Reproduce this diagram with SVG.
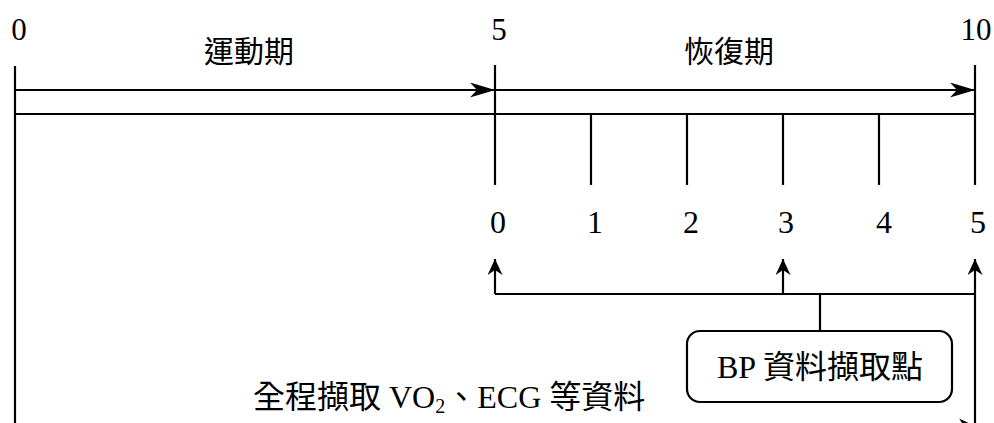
<svg xmlns="http://www.w3.org/2000/svg" width="994" height="423" viewBox="0 0 994 423">
<style>
.ln{stroke:#000;stroke-width:2.2;fill:none}
.t{font-family:"Liberation Serif","Noto Sans CJK TC",serif;fill:#000}
.c{font-family:"Noto Sans CJK TC","Liberation Sans",sans-serif;fill:#000}
</style>
<defs>
<marker id="big" markerUnits="userSpaceOnUse" markerWidth="26" markerHeight="16" refX="25" refY="7.5" orient="auto">
<path d="M0,0 L25,7.5 L0,15 L7,7.5 z" fill="#000"/>
</marker>
<marker id="small" markerUnits="userSpaceOnUse" markerWidth="17" markerHeight="16" refX="16" refY="7.5" orient="auto">
<path d="M0,0 L16,7.5 L0,15 L5,7.5 z" fill="#000"/>
</marker>
</defs>
<g id="labels">
<text class="t" x="19" y="40" font-size="31" text-anchor="middle">0</text>
<text class="t" x="499" y="40" font-size="31" text-anchor="middle">5</text>
<text class="t" x="976" y="40" font-size="31" text-anchor="middle">10</text>
<text class="c" x="249" y="62" font-size="30" text-anchor="middle">運動期</text>
<text class="c" x="729" y="62" font-size="30" text-anchor="middle">恢復期</text>
<text class="t" x="498" y="233" font-size="32" text-anchor="middle">0</text>
<text class="t" x="595" y="233" font-size="32" text-anchor="middle">1</text>
<text class="t" x="691" y="233" font-size="32" text-anchor="middle">2</text>
<text class="t" x="786" y="233" font-size="32" text-anchor="middle">3</text>
<text class="t" x="884" y="233" font-size="32" text-anchor="middle">4</text>
<text class="t" x="978" y="233" font-size="32" text-anchor="middle">5</text>
</g>
<g id="timeline">
<line class="ln" x1="15" y1="66" x2="15" y2="423"/>
<line class="ln" x1="495" y1="65" x2="495" y2="185"/>
<line class="ln" x1="975" y1="65" x2="975" y2="185"/>
<line class="ln" x1="591" y1="114" x2="591" y2="185"/>
<line class="ln" x1="687" y1="114" x2="687" y2="185"/>
<line class="ln" x1="783" y1="114" x2="783" y2="185"/>
<line class="ln" x1="879" y1="114" x2="879" y2="185"/>
<line class="ln" x1="15" y1="114" x2="975" y2="114"/>
</g>
<g id="connectors">
<line class="ln" x1="15" y1="90" x2="495" y2="90" marker-end="url(#big)"/>
<line class="ln" x1="495" y1="90" x2="975" y2="90" marker-end="url(#big)"/>
<line class="ln" x1="495" y1="294" x2="975" y2="294"/>
<line class="ln" x1="495" y1="294" x2="495" y2="259" marker-end="url(#small)"/>
<line class="ln" x1="783" y1="294" x2="783" y2="259" marker-end="url(#small)"/>
<line class="ln" x1="975" y1="423" x2="975" y2="259" marker-end="url(#small)"/>
<polyline class="ln" points="783,294 820,294 820,331"/>
<line class="ln" x1="15" y1="426" x2="975" y2="426" marker-end="url(#small)"/>
</g>
<g id="bp-node">
<rect class="ln" x="687" y="331" width="265" height="71" rx="13" fill="#fff"/>
<text class="t" x="820" y="378" font-size="32" text-anchor="middle">BP 資料擷取點</text>
</g>
<g id="all-data-label">
<text class="t" x="253" y="408" font-size="32">全程擷取 VO<tspan font-size="20" dy="5">2</tspan><tspan dy="-5">、ECG 等資料</tspan></text>
</g>
</svg>
